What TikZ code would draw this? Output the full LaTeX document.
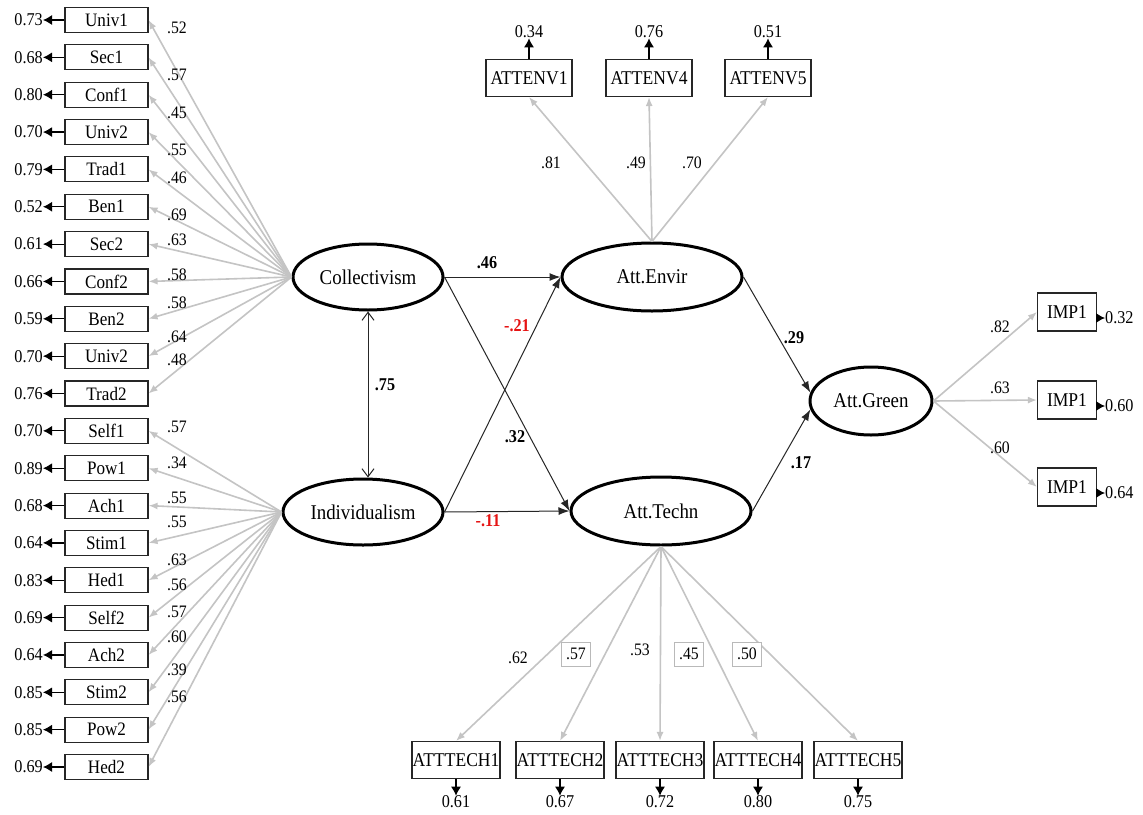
\documentclass[tikz,border=0pt]{standalone}
\usepackage{fontspec}
\setmainfont[FakeStretch=0.9]{Liberation Serif}
\usetikzlibrary{shapes.geometric,arrows.meta}
\definecolor{lgray}{RGB}{196,196,196}
\definecolor{bgray}{RGB}{185,185,185}
\definecolor{sred}{RGB}{230,20,20}
\tikzset{
  ind/.style={draw=black!85,line width=1.1pt,rectangle,inner sep=0pt,minimum width=83pt,minimum height=25pt,font=\fontsize{19}{19}\selectfont},
  indb/.style={draw=black!85,line width=1.1pt,rectangle,inner sep=0pt,minimum width=86pt,minimum height=37pt,font=\fontsize{19.5}{19.5}\selectfont},
  impb/.style={draw=black!85,line width=1.1pt,rectangle,inner sep=0pt,minimum width=59pt,minimum height=38pt,font=\fontsize{19.5}{19.5}\selectfont},
  lat/.style={draw,ellipse,line width=3pt,inner sep=0pt,font=\fontsize{21}{21}\selectfont},
  errl/.style={inner sep=0pt,font=\fontsize{18}{18}\selectfont},
  lab/.style={inner sep=0pt,font=\fontsize{17.5}{17.5}\selectfont},
  blab/.style={inner sep=0pt,font=\fontsize{18}{18}\selectfont\bfseries},
  boxlab/.style={draw=bgray,line width=0.8pt,fill=white,inner sep=0pt,minimum width=29pt,minimum height=24pt,font=\fontsize{17.5}{17.5}\selectfont},
  load/.style={draw=lgray,line width=1.6pt,-{Latex[length=9pt,width=7pt]}},
  errarrow/.style={draw=black,line width=1.2pt,-{Latex[length=9pt,width=10pt]}},
  pathar/.style={draw=black!85,line width=1pt,-{Latex[length=11pt,width=8pt]}},
}
\begin{document}
\begin{tikzpicture}[x=1pt,y=-1pt]
\useasboundingbox[fill=white] (0,0) rectangle (1143,814);
% latent variables
\node[lat,minimum width=150pt,minimum height=66pt] (coll) at (368,277) {Collectivism};
\node[lat,minimum width=160pt,minimum height=66pt] (indiv) at (363,512) {Individualism};
\node[lat,minimum width=180pt,minimum height=68pt] (envir) at (652,277) {Att.Envir};
\node[lat,minimum width=180pt,minimum height=68pt] (techn) at (661,511) {Att.Techn};
\node[lat,minimum width=122pt,minimum height=68pt] (green) at (871,401) {Att.Green};
% left indicators of Collectivism
\foreach \t/\e/\l/\ly [count=\i from 0] in {Univ1/0.73/.52/28,Sec1/0.68/.57/75,Conf1/0.80/.45/113,Univ2/0.70/.55/150,Trad1/0.79/.46/178,Ben1/0.52/.69/215,Sec2/0.61/.63/240,Conf2/0.66/.58/275,Ben2/0.59/.58/303,Univ2/0.70/.64/337,Trad2/0.76/.48/360}{
  \node[ind] (c\i) at (106.5,{20+37.35*\i}) {\t};
  \node[errl,anchor=east] (ce\i) at (43,{20+37.35*\i}) {\e};
  \draw[errarrow] (c\i.west) -- (ce\i.east);
  \draw[load] (coll.west) -- (c\i.east);
  \node[lab] (cl\i) at (177,\ly) {\l};
}
% left indicators of Individualism
\foreach \t/\e/\l/\ly [count=\i from 11] in {Self1/0.70/.57/427,Pow1/0.89/.34/463,Ach1/0.68/.55/498,Stim1/0.64/.55/522,Hed1/0.83/.63/560,Self2/0.69/.56/585,Ach2/0.64/.57/612,Stim2/0.85/.60/637,Pow2/0.85/.39/670,Hed2/0.69/.56/697}{
  \node[ind] (c\i) at (106.5,{20+37.35*\i}) {\t};
  \node[errl,anchor=east] (ce\i) at (43,{20+37.35*\i}) {\e};
  \draw[errarrow] (c\i.west) -- (ce\i.east);
  \draw[load] (indiv.west) -- (c\i.east);
  \node[lab] (cl\i) at (177,\ly) {\l};
}
% Att.Envir indicators
\foreach \t/\x/\e/\l/\lx [count=\i] in {ATTENV1/529/0.34/.81/551,ATTENV4/649/0.76/.49/636,ATTENV5/768/0.51/.70/692}{
  \node[indb] (v\i) at (\x,78) {\t};
  \node[errl] (ve\i) at (\x,32) {\e};
  \draw[errarrow] (v\i.north) -- (ve\i.south);
  \draw[load] (envir.north) -- (v\i.south);
  \node[lab] (vl\i) at (\lx,163) {\l};
}
% Att.Techn indicators
\foreach \t/\x/\e [count=\i] in {ATTTECH1/456/0.61,ATTTECH2/560/0.67,ATTTECH3/660/0.72,ATTTECH4/758/0.80,ATTTECH5/858/0.75}{
  \node[indb,minimum width=88pt] (t\i) at (\x,760) {\t};
  \node[errl] (te\i) at (\x,802) {\e};
  \draw[errarrow] (t\i.south) -- (te\i.north);
  \draw[load] (techn.south) -- (t\i.north);
}
\node[lab] (tl1) at (518,658) {.62};
\node[boxlab] (tl2) at (576,654) {.57};
\node[lab] (tl3) at (640,650) {.53};
\node[boxlab] (tl4) at (689,654) {.45};
\node[boxlab] (tl5) at (747,654) {.50};
% Att.Green indicators
\foreach \y/\e/\l/\ly [count=\i] in {312/0.32/.82/327,400/0.60/.63/388,487/0.64/.60/448}{
  \node[impb] (m\i) at (1067,\y) {IMP1};
  \node[errl,anchor=west] (me\i) at (1105,{\y+6}) {\e};
  \draw[errarrow] (m\i.east |- me\i.west) -- (me\i.west);
  \draw[load] (green.east) -- (m\i.west);
  \node[lab] (ml\i) at (1000,\ly) {\l};
}
% structural paths
\draw[pathar] (coll.east) -- (envir.west);
\draw[pathar] (coll.east) -- (techn.west);
\draw[pathar] (indiv.east) -- (envir.west);
\draw[pathar] (indiv.east) -- (techn.west);
\draw[pathar] (envir.east) -- (green.172);
\draw[pathar] (techn.east) -- (green.188);
\draw[draw=black!85,line width=1pt,{Straight Barb[length=8pt,width=12pt]}-{Straight Barb[length=8pt,width=12pt]}] (coll.south) -- (coll.south |- indiv.north);
\node[blab] (p1) at (487,263) {.46};
\node[blab,text=sred] (p2) at (517,326) {-.21};
\node[blab] (p3) at (515,437) {.32};
\node[blab,text=sred] (p4) at (488,521) {-.11};
\node[blab] (p5) at (385,385) {.75};
\node[blab] (p6) at (794,338) {.29};
\node[blab] (p7) at (801,463) {.17};
\end{tikzpicture}
\end{document}
